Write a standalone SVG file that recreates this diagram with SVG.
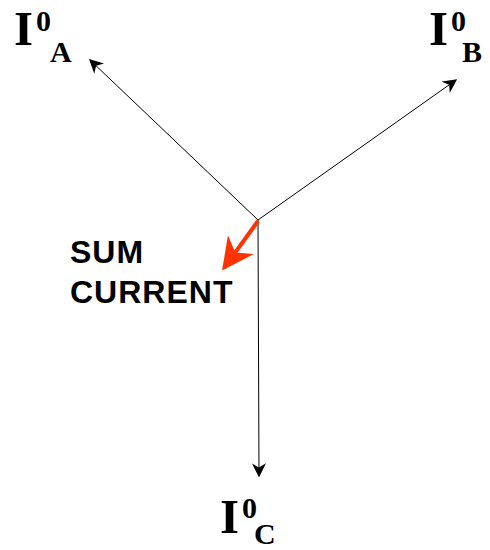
<svg xmlns="http://www.w3.org/2000/svg" width="490" height="550" viewBox="0 0 490 550">
<style>
.ln{stroke:#000;stroke-width:1;fill:none}
.lbl{font-family:"Liberation Serif",serif;font-weight:bold;fill:#000}
.big{font-size:49px}
.sup{font-size:30px}
.sub{font-size:30px}
.sum{font-family:"Liberation Sans",Arial,sans-serif;font-weight:bold;font-size:32px;letter-spacing:1px;fill:#000}
</style>
<defs>
<marker id="ah" viewBox="0 0 10 10" refX="9" refY="5" markerWidth="14" markerHeight="14" markerUnits="userSpaceOnUse" orient="auto">
<path d="M0,0 L10,5 L0,10 L3,5 Z" fill="#000"/>
</marker>
<marker id="rh" viewBox="0 0 10 10" refX="9" refY="5" markerWidth="8" markerHeight="8" orient="auto">
<path d="M0,0 L10,5 L0,10 L3,5 Z" fill="#ff3300"/>
</marker>
</defs>
<g id="connectors">
<line class="ln" x1="258" y1="220" x2="90" y2="60" marker-end="url(#ah)"/>
<line class="ln" x1="258" y1="220" x2="456" y2="80" marker-end="url(#ah)"/>
<line class="ln" x1="258" y1="220" x2="259" y2="476" marker-end="url(#ah)"/>
<line x1="258" y1="221" x2="224" y2="268" stroke="#ff3300" stroke-width="4" marker-end="url(#rh)"/>
</g>
<g id="IA">
<text class="lbl big" x="14" y="45">I</text>
<text class="lbl sup" x="36" y="31">0</text>
<text class="lbl sub" x="50" y="62">A</text>
</g>
<g id="IB">
<text class="lbl big" x="429" y="45">I</text>
<text class="lbl sup" x="451" y="31">0</text>
<text class="lbl sub" x="462" y="62">B</text>
</g>
<g id="IC">
<text class="lbl big" x="220" y="533">I</text>
<text class="lbl sup" x="242" y="518">0</text>
<text class="lbl sub" x="254" y="544">C</text>
</g>
<g id="sum">
<text class="sum" x="70" y="263">SUM</text>
<text class="sum" x="70" y="303">CURRENT</text>
</g>
</svg>
